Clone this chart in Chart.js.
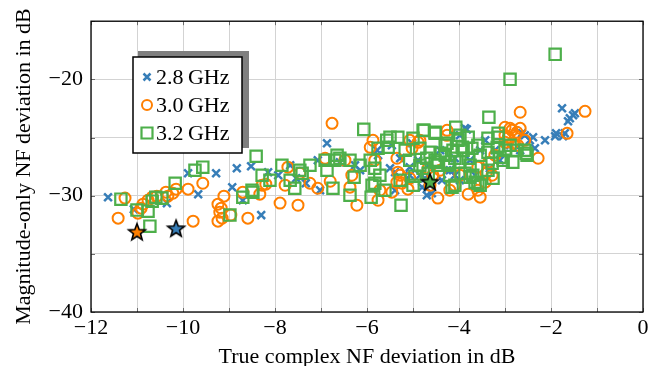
<!DOCTYPE html>
<html>
<head>
<meta charset="utf-8">
<script src="https://cdn.jsdelivr.net/npm/chart.js@4"></script>
<style>
  html, body { margin: 0; padding: 0; background: #fff; }
  #wrap { width: 658px; height: 366px; }
</style>
</head>
<body>
<div id="wrap"><canvas id="myChart" width="658" height="366"></canvas></div>
<script>
// 2.8 GHz measurements: [true complex NF deviation, magnitude-only NF deviation]
const f28 = [
  [-11.63, -30.13], [-11.07, -31.16], [-10.35, -30.64], [-9.67, -29.87], [-9.89, -28.07],
  [-9.28, -28.07], [-8.83, -27.64], [-8.93, -29.27], [-8.70, -30.39], [-8.30, -31.67],
  [-8.52, -27.47], [-8.15, -27.98], [-7.93, -28.24], [-7.67, -27.38], [-7.54, -28.50],
  [-7.33, -28.93], [-7.02, -29.53], [-6.87, -25.49], [-7.07, -26.95], [-6.59, -27.12],
  [-6.26, -27.38], [-6.15, -27.81], [-5.76, -26.52], [-5.50, -27.64], [-5.28, -26.78],
  [-5.02, -25.49], [-4.89, -26.95], [-4.85, -28.24], [-4.67, -27.38], [-4.41, -26.09],
  [-4.20, -27.81], [-4.09, -26.78], [-3.98, -28.67], [-3.76, -26.95], [-3.65, -28.24],
  [-3.54, -26.09], [-3.43, -25.24], [-3.33, -27.64], [-3.22, -26.09], [-3.11, -26.95],
  [-2.89, -25.67], [-2.67, -26.09], [-2.46, -25.24], [-2.35, -25.92], [-2.13, -25.24],
  [-1.91, -24.89], [-1.74, -24.89], [-1.70, -24.64], [-1.89, -24.64], [-1.76, -22.49],
  [-1.59, -23.35], [-1.52, -23.09], [-1.63, -23.61], [-1.48, -22.92], [-4.59, -29.79],
  [-4.74, -28.50], [-5.07, -28.24], [-5.39, -29.53], [-3.83, -24.30], [-3.98, -24.81],
  [-4.70, -29.96], [-4.26, -27.81], [-2.63, -24.64], [-2.39, -24.98], [-5.78, -26.09],
  [-5.07, -27.55], [-5.39, -27.98], [-4.80, -29.27], [-4.37, -28.67], [-5.46, -25.67],
  [-3.87, -24.21], [-2.57, -24.81], [-4.09, -28.24]
];

// 3.0 GHz measurements
const f30 = [
  [-11.41, -31.93], [-11.26, -30.21], [-10.98, -31.50], [-10.91, -31.07], [-10.87, -30.73],
  [-10.76, -30.39], [-10.67, -30.13], [-10.57, -30.04], [-10.37, -29.70], [-10.33, -30.04],
  [-10.22, -29.79], [-10.15, -29.44], [-9.89, -29.44], [-9.78, -32.19], [-9.57, -28.93],
  [-9.24, -30.73], [-9.20, -31.42], [-9.24, -32.19], [-9.15, -31.93], [-9.17, -31.07],
  [-8.96, -31.67], [-8.59, -31.93], [-7.89, -30.64], [-7.50, -30.82], [-8.33, -29.87],
  [-9.11, -30.04], [-8.28, -29.10], [-8.20, -29.01], [-7.46, -28.07], [-7.24, -28.93],
  [-6.76, -23.78], [-7.07, -29.36], [-6.80, -28.76], [-6.48, -26.95], [-6.33, -28.24],
  [-6.22, -30.82], [-5.83, -26.95], [-5.72, -29.53], [-5.46, -29.70], [-5.24, -28.93],
  [-5.33, -27.98], [-5.02, -25.92], [-4.85, -25.24], [-4.67, -27.64], [-4.63, -29.10],
  [-4.57, -28.24], [-4.41, -27.81], [-4.20, -29.53], [-4.09, -29.10], [-3.98, -28.24],
  [-3.80, -29.87], [-3.59, -29.53], [-3.41, -28.07], [-3.35, -27.12], [-3.22, -26.52],
  [-3.00, -24.81], [-2.89, -24.21], [-2.85, -24.38], [-2.78, -24.81], [-2.72, -25.67],
  [-2.67, -24.21], [-2.57, -25.24], [-2.67, -22.83], [-1.26, -22.75], [-1.65, -24.64],
  [-2.28, -26.78], [-5.11, -29.44], [-4.46, -30.21], [-3.54, -30.13], [-7.78, -29.10],
  [-7.72, -27.55], [-6.37, -29.27], [-5.93, -25.84], [-6.91, -26.78], [-8.70, -29.70],
  [-5.76, -30.39], [-5.87, -25.24], [-5.35, -26.78], [-5.07, -25.24], [-4.89, -25.41],
  [-4.26, -24.38], [-5.28, -28.24], [-5.07, -28.50], [-4.26, -24.81], [-5.35, -28.84],
  [-3.00, -24.12], [-2.93, -24.98], [-2.83, -25.49], [-2.74, -24.55], [-3.59, -27.55],
  [-3.28, -28.24], [-3.43, -28.84], [-3.00, -25.41]
];

// 3.2 GHz measurements
const f32 = [
  [-11.35, -30.30], [-11.00, -31.24], [-10.72, -32.62], [-10.76, -31.33], [-10.67, -30.47],
  [-10.59, -30.13], [-10.46, -30.21], [-10.17, -28.93], [-9.74, -27.81], [-9.57, -27.55],
  [-8.98, -31.67], [-8.70, -30.13], [-8.48, -29.70], [-8.28, -28.24], [-8.41, -26.61],
  [-7.85, -27.38], [-7.46, -27.81], [-7.24, -27.38], [-7.67, -28.67], [-6.91, -26.95],
  [-6.70, -26.95], [-6.59, -26.78], [-6.37, -26.95], [-6.28, -28.41], [-6.15, -27.38],
  [-5.93, -26.95], [-5.89, -29.10], [-5.83, -27.64], [-5.72, -28.24], [-5.61, -29.53],
  [-5.28, -28.67], [-5.17, -26.09], [-5.07, -26.95], [-4.96, -28.33], [-4.85, -27.38],
  [-4.67, -28.07], [-4.52, -26.95], [-4.46, -27.38], [-4.30, -26.52], [-4.24, -27.38],
  [-4.20, -28.24], [-4.09, -26.78], [-4.02, -25.24], [-3.98, -27.12], [-3.91, -26.09],
  [-3.76, -27.38], [-3.65, -28.84], [-3.59, -25.67], [-3.54, -26.52], [-3.37, -27.81],
  [-3.26, -28.50], [-3.11, -26.70], [-3.00, -26.09], [-2.89, -25.67], [-2.83, -27.12],
  [-2.74, -26.09], [-2.57, -26.09], [-2.52, -26.52], [-2.54, -26.35], [-6.07, -24.30],
  [-4.76, -24.38], [-4.07, -24.12], [-3.35, -23.26], [-2.89, -20.00], [-1.91, -17.85],
  [-5.26, -30.82], [-5.91, -30.13], [-6.37, -29.96], [-5.57, -25.24], [-7.41, -28.07],
  [-8.11, -28.67], [-8.50, -29.53], [-7.57, -29.36], [-6.74, -29.36], [-6.87, -27.81],
  [-6.65, -26.52], [-4.52, -24.64], [-5.33, -24.98], [-5.00, -29.10], [-4.09, -29.10],
  [-3.76, -28.41], [-4.30, -25.67], [-3.15, -24.98], [-3.04, -26.95], [-3.54, -29.10],
  [-5.50, -24.98], [-5.76, -25.92], [-5.54, -25.84], [-5.00, -25.06], [-4.78, -24.38],
  [-4.52, -24.55], [-4.85, -25.92], [-4.63, -26.27], [-4.41, -26.35], [-4.70, -26.78],
  [-4.48, -27.12], [-4.26, -25.49], [-4.13, -26.09], [-4.20, -27.12], [-5.83, -28.93],
  [-4.15, -29.27], [-4.78, -27.64], [-3.98, -24.81], [-3.80, -24.98], [-3.93, -25.84],
  [-3.72, -25.92], [-3.37, -25.06], [-3.15, -24.64], [-3.17, -25.84], [-3.37, -26.27],
  [-3.28, -27.21], [-3.70, -28.24], [-3.59, -28.93], [-3.80, -26.78], [-3.87, -28.07]
];

// highlighted points, one per frequency
const starPts = [[-10.15, -32.8], [-11.0, -33.1], [-4.63, -28.8]];

const seriesNames = ['2.8\u2009GHz', '3.0\u2009GHz', '3.2\u2009GHz'];
const seriesColors = ['#377eb8', '#ff7f00', '#4daf4a'];

const xTicks = [-12, -10, -8, -6, -4, -2, 0];
const yTicks = [-40, -30, -20];

const toXY = arr => arr.map(p => ({ x: p[0], y: p[1] }));
const minus = v => (v < 0 ? '\u2212' + Math.abs(v) : String(v));

function makeStar(fill) {
  const c = document.createElement('canvas');
  c.width = 22; c.height = 22;
  const g = c.getContext('2d');
  g.beginPath();
  for (let i = 0; i < 10; i++) {
    const r = i % 2 ? 3.7 : 8.8;
    const a = -Math.PI / 2 + i * Math.PI / 5;
    g.lineTo(11 + r * Math.cos(a), 11.8 + r * Math.sin(a));
  }
  g.closePath();
  g.fillStyle = fill;
  g.fill();
  g.lineWidth = 1.6;
  g.strokeStyle = '#000';
  g.stroke();
  return c;
}

const serif = '"Liberation Serif", "DejaVu Serif", serif';
const fontSize = 22;

// frame with inward ticks on all four sides
const framePlugin = {
  id: 'frame',
  afterDatasetsDraw(chart) {
    const { ctx, chartArea: a, scales } = chart;
    ctx.save();
    ctx.strokeStyle = '#6b6b6b';
    ctx.lineWidth = 1;
    for (let v = -12; v <= 0; v++) {
      const px = Math.round(scales.x.getPixelForValue(v)) + 0.5;
      ctx.beginPath();
      ctx.moveTo(px, a.bottom); ctx.lineTo(px, a.bottom - 4);
      ctx.moveTo(px, a.top); ctx.lineTo(px, a.top + 4);
      ctx.stroke();
    }
    for (let v = -40; v <= -15; v += 5) {
      const py = Math.round(scales.y.getPixelForValue(v)) + 0.5;
      ctx.beginPath();
      ctx.moveTo(a.left, py); ctx.lineTo(a.left + 4, py);
      ctx.moveTo(a.right, py); ctx.lineTo(a.right - 4, py);
      ctx.stroke();
    }
    ctx.strokeStyle = '#000';
    ctx.lineWidth = 1.3;
    ctx.strokeRect(a.left, a.top, a.right - a.left, a.bottom - a.top);
    ctx.restore();
  }
};

// boxed legend with a drop shadow
const boxLegend = {
  id: 'boxLegend',
  afterDraw(chart) {
    const ctx = chart.ctx;
    ctx.save();
    ctx.fillStyle = '#7f7f7f';
    ctx.fillRect(138, 51, 111, 97);
    ctx.fillStyle = '#fff';
    ctx.fillRect(133, 57, 109, 96);
    ctx.strokeStyle = '#000';
    ctx.lineWidth = 1.5;
    ctx.strokeRect(133, 57, 109, 96);
    const rows = [77, 105, 133];
    rows.forEach((y, i) => {
      const x = 147;
      ctx.strokeStyle = seriesColors[i];
      ctx.beginPath();
      if (i === 0) {
        ctx.lineWidth = 2.5;
        ctx.moveTo(x - 3.5, y - 3.5); ctx.lineTo(x + 3.5, y + 3.5);
        ctx.moveTo(x + 3.5, y - 3.5); ctx.lineTo(x - 3.5, y + 3.5);
      } else if (i === 1) {
        ctx.lineWidth = 2;
        ctx.arc(x, y, 5, 0, Math.PI * 2);
      } else {
        ctx.lineWidth = 2.2;
        ctx.rect(x - 5.5, y - 5.5, 11, 11);
      }
      ctx.stroke();
      ctx.fillStyle = '#000';
      ctx.font = fontSize + 'px ' + serif;
      ctx.textBaseline = 'middle';
      ctx.fillText(seriesNames[i], 156, y + 1);
    });
    ctx.restore();
  }
};

const ctx = document.getElementById('myChart').getContext('2d');

new Chart(ctx, {
  type: 'scatter',
  data: {
    datasets: [
      {
        label: seriesNames[0],
        data: toXY(f28),
        pointStyle: 'crossRot',
        pointRadius: 5.5,
        borderColor: seriesColors[0],
        backgroundColor: seriesColors[0],
        pointBorderWidth: 2.5,
        order: 3
      },
      {
        label: seriesNames[1],
        data: toXY(f30),
        pointStyle: 'circle',
        pointRadius: 5.5,
        borderColor: seriesColors[1],
        backgroundColor: 'rgba(0,0,0,0)',
        pointBorderWidth: 2,
        order: 2
      },
      {
        label: seriesNames[2],
        data: toXY(f32),
        pointStyle: 'rect',
        pointRadius: 8,
        borderColor: seriesColors[2],
        backgroundColor: 'rgba(0,0,0,0)',
        pointBorderWidth: 2.2,
        order: 1
      },
      {
        label: 'best',
        data: toXY(starPts),
        pointStyle: seriesColors.map(makeStar),
        pointRadius: 9,
        order: 0
      }
    ]
  },
  options: {
    responsive: false,
    animation: false,
    events: [],
    layout: { padding: { left: 0, right: 15, top: 21, bottom: 0 } },
    plugins: { legend: { display: false }, tooltip: { enabled: false } },
    scales: {
      x: {
        type: 'linear',
        min: -12,
        max: 0,
        afterFit: s => { s.height = 54; },
        afterBuildTicks: s => { s.ticks = []; for (let v = -12; v <= 0; v++) s.ticks.push({ value: v }); },
        grid: { color: '#d3d3d3', lineWidth: 1, drawTicks: false },
        border: { display: false },
        ticks: {
          padding: 3,
          color: '#000',
          font: { family: serif, size: fontSize },
          maxRotation: 0,
          autoSkip: false,
          callback: v => (xTicks.includes(v) ? minus(v) : '')
        },
        title: {
          display: true,
          text: 'True complex NF deviation in dB',
          color: '#000',
          font: { family: serif, size: fontSize },
          padding: { top: 0, bottom: -4 }
        }
      },
      y: {
        type: 'linear',
        min: -40,
        max: -15,
        afterFit: s => { s.width = 91; },
        afterBuildTicks: s => { s.ticks = []; for (let v = -40; v <= -15; v += 5) s.ticks.push({ value: v }); },
        grid: { color: '#d3d3d3', lineWidth: 1, drawTicks: false },
        border: { display: false },
        ticks: {
          padding: 8,
          color: '#000',
          font: { family: serif, size: fontSize },
          autoSkip: false,
          callback: v => (yTicks.includes(v) ? minus(v) : '')
        },
        title: {
          display: true,
          text: 'Magnitude-only NF deviation in dB',
          color: '#000',
          font: { family: serif, size: fontSize },
          padding: { top: 11, bottom: 0 }
        }
      }
    }
  },
  plugins: [framePlugin, boxLegend]
});
</script>
</body>
</html>
